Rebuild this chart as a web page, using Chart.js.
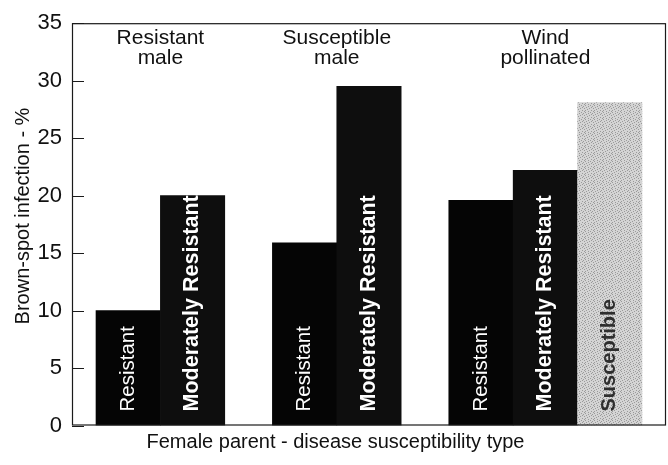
<!DOCTYPE html>
<html>
<head>
<meta charset="utf-8">
<script src="https://cdn.jsdelivr.net/npm/chart.js@4/dist/chart.umd.min.js"></script>
<style>
  html, body { margin: 0; padding: 0; background: #fff; }
  #wrap { width: 668px; height: 465px; }
</style>
</head>
<body>
<div id="wrap"><canvas id="c" width="668" height="465"></canvas></div>
<script>
// ---- data ----
const groupLabels = [['Resistant', 'male'], ['Susceptible', 'male'], ['Wind', 'pollinated']];
const femaleTypes = ['Resistant', 'Moderately Resistant', 'Resistant', 'Moderately Resistant', 'Resistant', 'Moderately Resistant', 'Susceptible'];
const barGroup = [0, 0, 1, 1, 2, 2, 2];
const infection = [10.0, 20.0, 15.9, 29.5, 19.6, 22.2, 28.1];
const yTicks = [0, 5, 10, 15, 20, 25, 30, 35];
const yTitle = 'Brown-spot infection - %';
const xTitle = 'Female parent - disease susceptibility type';

// ---- layout (in bar-width units on a linear x scale) ----
const FONT = "'Liberation Sans', Arial, Helvetica, sans-serif";
const X_MAX = 9.227;
const FIRST_GROUP = 0.373;
const GROUP_PERIOD = 2.74;

const idxInGroup = barGroup.map((g, i) => barGroup.slice(0, i).filter(v => v === g).length);
const groupSize = groupLabels.map((_, g) => barGroup.filter(v => v === g).length);
const groupStart = g => FIRST_GROUP + g * GROUP_PERIOD;
const barX = i => groupStart(barGroup[i]) + idxInGroup[i] + 0.5;

// stipple pattern for the grey bar (deterministic tile)
function stipple() {
  const c = document.createElement('canvas');
  c.width = 9; c.height = 7;
  const g = c.getContext('2d');
  g.fillStyle = '#d4d4d4'; g.fillRect(0, 0, 9, 7);
  const mask = [
    '100001000',
    '000100010',
    '010000100',
    '000010001',
    '001000000',
    '100000100',
    '000100001'
  ];
  g.fillStyle = '#9a9a9a';
  mask.forEach((row, yy) => [...row].forEach((b, xx) => { if (b === '1') g.fillRect(xx, yy, 1, 1); }));
  return g.createPattern(c, 'repeat');
}
const ctx = document.getElementById('c').getContext('2d');
const typeFill = { 'Resistant': '#050505', 'Moderately Resistant': '#0e0e0e', 'Susceptible': stipple() };

const decor = {
  id: 'decor',
  afterDatasetsDraw(chart) {
    const { ctx, chartArea: a, scales: { x, y } } = chart;
    const meta = chart.getDatasetMeta(0);
    // labels inside bars
    meta.data.forEach((bar, i) => {
      const t = femaleTypes[i];
      ctx.save();
      ctx.translate(bar.x, bar.base - 14);
      ctx.rotate(-Math.PI / 2);
      ctx.font = t === 'Resistant' ? '20.5px ' + FONT : (t === 'Susceptible' ? 'bold 20px ' + FONT : 'bold 21.5px ' + FONT);
      ctx.fillStyle = t === 'Susceptible' ? '#2e2e2e' : '#ffffff';
      ctx.textAlign = 'left';
      ctx.textBaseline = 'middle';
      ctx.fillText(t, 0, 0);
      ctx.restore();
    });
    // group labels at top
    ctx.save();
    ctx.font = '21px ' + FONT;
    ctx.fillStyle = '#111';
    ctx.textAlign = 'center';
    ctx.textBaseline = 'alphabetic';
    groupLabels.forEach((lines, g) => {
      const cx = x.getPixelForValue(groupStart(g) + groupSize[g] / 2);
      lines.forEach((ln, k) => ctx.fillText(ln, cx, 44 + k * 20));
    });
    // x-axis title (centred on the page, as in the original)
    ctx.font = '20px ' + FONT;
    ctx.fillText(xTitle, chart.width / 2 + 1.5, 448);
    // y-axis title
    ctx.translate(23, 216);
    ctx.rotate(-Math.PI / 2);
    ctx.textBaseline = 'middle';
    ctx.fillText(yTitle, 0, 0);
    ctx.restore();
    // frame and inside ticks
    ctx.save();
    ctx.strokeStyle = '#1a1a1a';
    ctx.lineWidth = 1.2;
    ctx.strokeRect(a.left + 0.5, a.top + 0.5, a.width - 1, a.height - 1);
    ctx.beginPath();
    yTicks.forEach(v => {
      const py = Math.round(y.getPixelForValue(v)) + 0.5;
      ctx.moveTo(a.left, py);
      ctx.lineTo(a.left + 12, py);
    });
    ctx.stroke();
    ctx.restore();
  }
};

Chart.defaults.font.family = FONT;

new Chart(ctx, {
  type: 'bar',
  data: {
    datasets: [{
      data: infection.map((v, i) => ({ x: barX(i), y: v })),
      backgroundColor: femaleTypes.map(t => typeFill[t]),
      borderWidth: 0,
      barPercentage: 1,
      categoryPercentage: 1
    }]
  },
  options: {
    responsive: false,
    animation: false,
    events: [],
    layout: { padding: { top: 16, right: 2, left: 0, bottom: 0 } },
    plugins: { legend: { display: false }, tooltip: { enabled: false } },
    scales: {
      x: {
        type: 'linear',
        offset: false,
        min: 0,
        max: X_MAX,
        ticks: { display: false, stepSize: 1, includeBounds: false },
        grid: { display: false, drawTicks: false },
        border: { display: false },
        title: { display: false },
        afterFit: s => { s.height = 39.5; }
      },
      y: {
        min: 0,
        max: 35,
        afterBuildTicks: s => { s.ticks = yTicks.map(v => ({ value: v })); },
        ticks: { color: '#111', font: { size: 22 }, padding: 10 },
        grid: { display: false, drawTicks: false },
        border: { display: false },
        title: { display: false },
        afterFit: s => { s.width = 72; }
      }
    }
  },
  plugins: [decor]
});
</script>
</body>
</html>
